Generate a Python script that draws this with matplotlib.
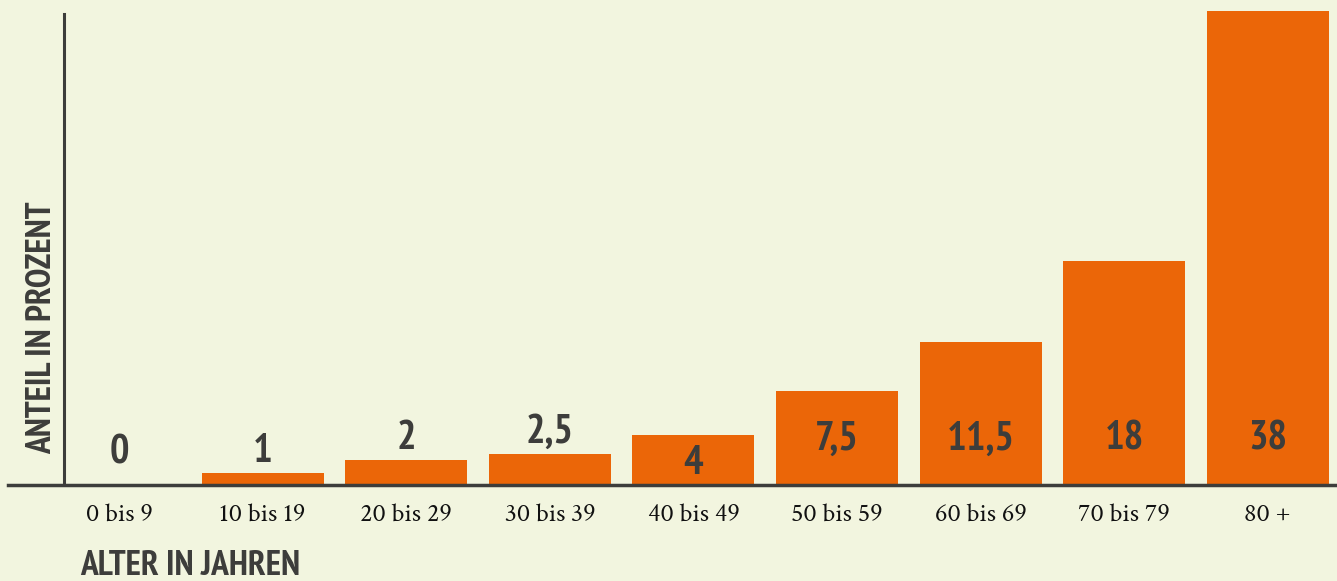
import matplotlib
matplotlib.use("Agg")
import matplotlib.pyplot as plt
import numpy as np

# Anteil in Prozent je Altersgruppe
age_groups = ["0 bis 9", "10 bis 19", "20 bis 29", "30 bis 39", "40 bis 49",
              "50 bis 59", "60 bis 69", "70 bis 79", "80 +"]
shares = [0, 1, 2, 2.5, 4, 7.5, 11.5, 18, 38]
share_labels = ["0", "1", "2", "2,5", "4", "7,5", "11,5", "18", "38"]

BG = "#F2F5DF"
ORANGE = "#EB6608"
DARK = "#3D3D3B"
COND = ["PT Sans Narrow", "Roboto Condensed", "DejaVu Sans"]
SERIF = ["Crimson Text", "Crimson Pro", "Source Serif 4", "DejaVu Serif"]

fig = plt.figure(figsize=(13.37, 5.81), dpi=100)
fig.patch.set_facecolor(BG)
ax = fig.add_axes([8 / 1337, 96 / 581, 1329 / 1337, 485 / 581])
ax.set_facecolor(BG)

x = np.arange(len(age_groups))
ax.bar(x, shares, width=0.85, color=ORANGE, zorder=2)

# value labels: above small bars, inside the bigger ones
for xi, v, lab in zip(x, shares, share_labels):
    if v < 3:
        y = max(v + 1.7, 2.6)
    elif v < 5:
        y = v / 2 - 0.3
    else:
        y = 3.7
    ax.text(xi, y, lab, ha="center", va="center", fontsize=29.5,
            fontweight="bold", color=DARK, family=COND, zorder=3)

ax.set_xlim(-0.773, 8.482)
ax.set_ylim(0, 38.9)

# axis lines
ax.axhline(0, color=DARK, lw=2.5, zorder=4, clip_on=False)
ax.plot([-0.383, -0.383], [0, 37.8], color=DARK, lw=2.2, zorder=4)

for s in ax.spines.values():
    s.set_visible(False)
ax.set_yticks([])
ax.set_xticks(x)
ax.set_xticklabels(age_groups, family=SERIF, fontsize=19, color="#111111")
ax.tick_params(axis="x", length=0, pad=13)

fig.text(42 / 1337, 1 - 328 / 581, "ANTEIL IN PROZENT", rotation=90,
         ha="center", va="center", fontsize=25.5, fontweight="bold",
         color=DARK, family=COND)
fig.text(80 / 1337, 1 - 550 / 581, "ALTER IN JAHREN", ha="left", va="top",
         fontsize=25.5, fontweight="bold", color=DARK, family=COND)

fig.savefig("out.png", dpi=100, facecolor=BG)
